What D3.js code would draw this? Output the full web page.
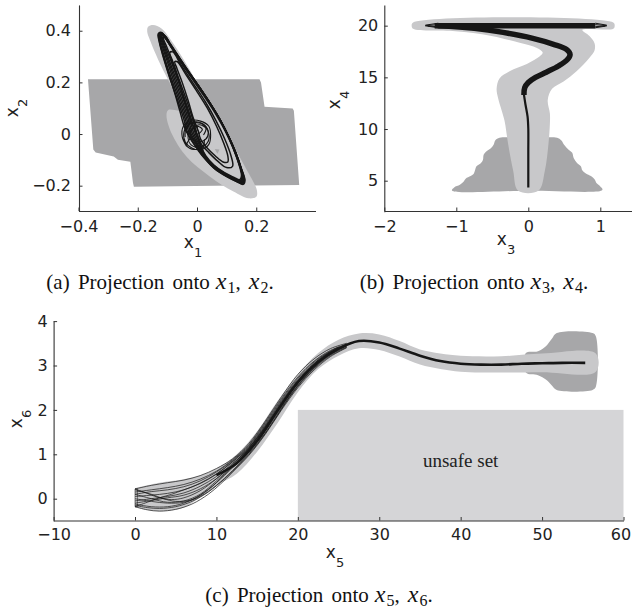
<!DOCTYPE html>
<html><head><meta charset="utf-8">
<script src="https://cdn.jsdelivr.net/npm/d3@7/dist/d3.min.js"></script>
<style>body{margin:0;background:#fff}svg{display:block}</style>
</head><body>
<svg id="chart" width="632" height="612"></svg>
<script>
// ---------------- DATA ----------------
// Panel (a): projection onto x1, x2
const aXTicks = [-0.4, -0.2, 0, 0.2];
const aXLabels = ["\u22120.4", "\u22120.2", "0", "0.2"];
const aYTicks = [-0.2, 0, 0.2, 0.4];
const aYLabels = ["\u22120.2", "0", "0.2", "0.4"];
const aDark = [[-0.368,0.212],[0.211,0.212],[0.216,0.2],[0.228,0.106],[0.323,0.099],[0.327,0.09],[0.345,-0.197],[-0.213,-0.204],[-0.216,-0.19],[-0.225,-0.107],[-0.267,-0.1],[-0.281,-0.087],[-0.342,-0.072],[-0.35,-0.06]];
const aLight = [[-0.165,0.415],[-0.148,0.422],[-0.12,0.409],[-0.08,0.351],[-0.024,0.248],[0.044,0.106],[0.112,-0.023],[0.168,-0.139],[0.202,-0.217],[0.2,-0.243],[0.174,-0.249],[0.123,-0.223],[0.044,-0.165],[-0.035,-0.088],[-0.086,0.003],[-0.103,0.073],[-0.097,0.093],[-0.052,0.093],[-0.08,0.17],[-0.125,0.273],[-0.159,0.364],[-0.168,0.396]];
const aDarkSpeck = [[0.06,-0.058],[0.076,-0.06],[0.069,-0.076]];
const aLoops = [
 [[-0.005,-0.045],[-0.03,0.0],[-0.045,0.06],[-0.065,0.13],[-0.09,0.21],[-0.112,0.29],[-0.127,0.355],[-0.131,0.388],[-0.12,0.393],[-0.1,0.36],[-0.075,0.315],[-0.04,0.255],[0.002,0.19],[0.04,0.125],[0.075,0.06],[0.105,-0.005],[0.13,-0.07],[0.15,-0.135],[0.162,-0.18],[0.156,-0.195],[0.135,-0.185],[0.1,-0.165],[0.06,-0.135],[0.03,-0.1],[0.005,-0.065],[-0.005,-0.045]],
 [[-0.002,-0.042],[-0.025,0.0],[-0.04,0.06],[-0.06,0.13],[-0.085,0.21],[-0.108,0.29],[-0.124,0.352],[-0.129,0.386],[-0.118,0.391],[-0.099,0.358],[-0.074,0.314],[-0.039,0.254],[0.003,0.189],[0.041,0.124],[0.076,0.059],[0.105,-0.006],[0.13,-0.071],[0.15,-0.134],[0.16,-0.178],[0.154,-0.193],[0.133,-0.183],[0.099,-0.163],[0.059,-0.133],[0.029,-0.098],[0.006,-0.062],[-0.002,-0.042]],
 [[0.0,-0.04],[-0.02,0.0],[-0.035,0.06],[-0.055,0.13],[-0.08,0.21],[-0.103,0.29],[-0.12,0.35],[-0.126,0.383],[-0.116,0.388],[-0.097,0.357],[-0.072,0.313],[-0.037,0.253],[0.004,0.188],[0.042,0.123],[0.077,0.058],[0.106,-0.007],[0.131,-0.072],[0.149,-0.133],[0.158,-0.175],[0.152,-0.19],[0.132,-0.18],[0.098,-0.16],[0.058,-0.13],[0.028,-0.095],[0.008,-0.06],[0.0,-0.04]],
 [[0.002,-0.038],[-0.015,0.0],[-0.03,0.06],[-0.05,0.13],[-0.075,0.21],[-0.099,0.29],[-0.116,0.347],[-0.123,0.38],[-0.113,0.385],[-0.095,0.355],[-0.07,0.311],[-0.035,0.251],[0.005,0.186],[0.043,0.121],[0.077,0.056],[0.106,-0.009],[0.131,-0.074],[0.148,-0.131],[0.156,-0.172],[0.15,-0.187],[0.13,-0.177],[0.096,-0.157],[0.057,-0.127],[0.028,-0.092],[0.01,-0.057],[0.002,-0.038]],
 [[0.005,-0.035],[-0.01,0.0],[-0.025,0.06],[-0.045,0.13],[-0.07,0.21],[-0.095,0.29],[-0.112,0.345],[-0.12,0.378],[-0.111,0.383],[-0.094,0.353],[-0.069,0.31],[-0.034,0.25],[0.006,0.185],[0.044,0.12],[0.078,0.055],[0.107,-0.01],[0.131,-0.075],[0.147,-0.13],[0.154,-0.17],[0.148,-0.184],[0.128,-0.174],[0.095,-0.155],[0.057,-0.125],[0.028,-0.09],[0.012,-0.055],[0.005,-0.035]],
 [[0.008,-0.032],[-0.005,0.0],[-0.02,0.06],[-0.04,0.13],[-0.065,0.21],[-0.09,0.29],[-0.108,0.342],[-0.116,0.375],[-0.108,0.38],[-0.092,0.351],[-0.067,0.308],[-0.032,0.248],[0.007,0.183],[0.045,0.118],[0.079,0.053],[0.107,-0.011],[0.13,-0.076],[0.146,-0.128],[0.152,-0.166],[0.146,-0.18],[0.126,-0.171],[0.094,-0.152],[0.057,-0.122],[0.029,-0.087],[0.014,-0.052],[0.008,-0.032]],
 [[0.01,-0.03],[0.0,0.0],[-0.015,0.06],[-0.035,0.13],[-0.06,0.21],[-0.085,0.29],[-0.103,0.34],[-0.113,0.372],[-0.106,0.377],[-0.09,0.35],[-0.066,0.307],[-0.031,0.247],[0.008,0.182],[0.045,0.117],[0.079,0.052],[0.107,-0.012],[0.13,-0.077],[0.144,-0.127],[0.15,-0.163],[0.144,-0.177],[0.125,-0.168],[0.093,-0.15],[0.057,-0.12],[0.03,-0.085],[0.015,-0.05],[0.01,-0.03]],
 [[-0.01,-0.04],[-0.04,0.02],[-0.058,0.09],[-0.078,0.17],[-0.1,0.25],[-0.118,0.32],[-0.128,0.37],[-0.124,0.386],[-0.108,0.372],[-0.086,0.335],[-0.055,0.28],[-0.015,0.212],[0.025,0.145],[0.062,0.08],[0.095,0.012],[0.122,-0.055],[0.143,-0.12],[0.156,-0.17],[0.15,-0.186],[0.13,-0.177],[0.097,-0.158],[0.06,-0.128],[0.03,-0.093],[0.005,-0.06],[-0.01,-0.04]],
 [[0.0,0.0],[-0.02,0.05],[-0.04,0.12],[-0.06,0.2],[-0.08,0.27],[-0.092,0.315],[-0.082,0.318],[-0.055,0.27],[-0.015,0.2],[0.028,0.125],[0.064,0.052],[0.094,-0.02],[0.115,-0.085],[0.12,-0.125],[0.1,-0.13],[0.07,-0.105],[0.04,-0.072],[0.015,-0.04],[0.0,0.0]],
 [[0.005,0.01],[-0.012,0.06],[-0.03,0.13],[-0.05,0.2],[-0.068,0.255],[-0.075,0.28],[-0.066,0.28],[-0.04,0.235],[-0.003,0.17],[0.035,0.1],[0.066,0.03],[0.09,-0.035],[0.104,-0.085],[0.104,-0.108],[0.088,-0.108],[0.062,-0.085],[0.035,-0.055],[0.012,-0.02],[0.005,0.01]]
];
const aKnots = [
 [[0.005,0.0],[0.018,0.018],[0.0,0.03],[-0.02,0.012],[-0.018,-0.015],[0.004,-0.03],[0.028,-0.022],[0.038,0.004],[0.026,0.034],[-0.004,0.044],[-0.03,0.035],[-0.044,0.008],[-0.04,-0.03],[-0.016,-0.055],[0.014,-0.06],[0.04,-0.04],[0.046,-0.006],[0.04,0.03],[0.012,0.05],[-0.022,0.052],[-0.046,0.03],[-0.05,-0.01],[-0.035,-0.048]],
 [[0.022,-0.004],[0.03,0.022],[0.008,0.036],[-0.014,0.024],[-0.03,-0.006],[-0.02,-0.042],[0.012,-0.052],[0.036,-0.032],[0.04,0.002],[0.018,0.04],[-0.012,0.046],[-0.036,0.026],[-0.04,-0.012]],
 [[-0.03,0.0],[-0.04,0.03],[-0.02,0.045],[0.0,0.03],[-0.005,0.0],[-0.025,-0.02],[-0.035,-0.045],[-0.01,-0.06],[0.02,-0.05],[0.025,-0.02]]
];

// Panel (b): projection onto x3, x4
const bXTicks = [-2, -1, 0, 1];
const bXLabels = ["\u22122", "\u22121", "0", "1"];
const bYTicks = [5, 10, 15, 20];
const bYLabels = ["5", "10", "15", "20"];
const bDark = [[-1.06,4.05],[-1.03,4.35],[-0.95,4.6],[-0.9,4.9],[-0.87,5.2],[-0.8,5.45],[-0.76,5.65],[-0.74,6.0],[-0.72,6.4],[-0.66,6.7],[-0.63,7.0],[-0.62,7.5],[-0.58,7.85],[-0.52,8.15],[-0.48,8.5],[-0.46,8.9],[-0.4,9.15],[-0.3,9.2],[0.3,9.2],[0.4,9.15],[0.46,8.9],[0.5,8.45],[0.56,8.0],[0.61,7.7],[0.63,7.2],[0.68,6.7],[0.73,6.4],[0.75,6.0],[0.8,5.7],[0.87,5.45],[0.92,5.15],[0.95,4.75],[1.0,4.45],[1.03,4.2],[1.02,4.05],[0,4.03]];
const bLight = [[-0.14,4.03],[-0.21,5.97],[-0.28,8.55],[-0.33,10.8],[-0.37,11.8],[-0.42,13.0],[-0.44,13.9],[-0.4,14.9],[-0.26,15.6],[-0.02,16.3],[0.16,17.05],[0.2,17.4],[0.12,17.85],[-0.12,18.35],[-0.62,19.15],[-1.09,19.5],[-1.6,19.7],[-1.62,20.0],[-1.6,20.3],[1.18,20.3],[1.2,20.0],[1.18,19.7],[0.75,19.6],[0.85,19.0],[0.92,18.3],[0.92,17.6],[0.85,16.9],[0.67,15.6],[0.49,14.6],[0.33,13.9],[0.27,12.8],[0.3,11.5],[0.3,10.5],[0.28,8.55],[0.23,5.97],[0.14,4.03]];
const bLower = [[0.0,4.35],[0.0,6],[0.0,8],[0.0,10],[-0.01,11.2],[-0.04,12.4],[-0.06,13.3]];
const bUpper = [[-0.06,13.3],[-0.05,14.0],[0.0,14.5],[0.1,15.0],[0.25,15.5],[0.42,16.1],[0.54,16.7],[0.58,17.2],[0.53,17.7],[0.35,18.2],[0.05,18.8],[-0.35,19.35],[-0.75,19.75],[-1.1,19.95],[-1.3,20.0]];
const bBar = [[[-1.25,20.0],[0.93,20.0]]];
const bBarThin = [
 [[-1.43,20.05],[-1.25,20.24]],[[-1.43,20.0],[-1.25,20.1]],[[-1.43,19.98],[-1.25,19.9]],[[-1.4,19.95],[-1.25,19.8]],
 [[0.93,20.24],[1.09,20.05]],[[0.93,20.1],[1.09,20.0]],[[0.93,19.9],[1.09,19.98]],[[0.93,19.8],[1.07,19.95]]
];

// Panel (c): projection onto x5, x6
const cXTicks = [-10, 0, 10, 20, 30, 40, 50, 60];
const cXLabels = ["\u221210", "0", "10", "20", "30", "40", "50", "60"];
const cYTicks = [0, 1, 2, 3, 4];
const cYLabels = ["0", "1", "2", "3", "4"];
const cUnsafe = {x0: 20, x1: 60, y0: -0.5, y1: 2, label: "unsafe set", lx: 40, ly: 0.72};
const cTubeUpper = [[0,0.24],[3,0.36],[6,0.44],[8,0.52],[10,0.68],[12.5,1.0],[15,1.52],[17.5,2.2],[20,2.8],[22.5,3.28],[25,3.58],[27.5,3.72],[30,3.7],[32.5,3.55],[35,3.36],[37.5,3.27],[40,3.22],[45,3.21],[50,3.27],[56.6,3.27]];
const cTubeLower = [[56.6,2.86],[50,2.85],[45,2.84],[40,2.86],[37.5,2.92],[35,3.02],[32.5,3.2],[30,3.35],[27.5,3.39],[25,3.22],[22.5,2.92],[20,2.4],[17.5,1.7],[15,1.06],[12.5,0.56],[10,0.3],[8,0.04],[6,-0.2],[3,-0.28],[0,-0.2]];
const cDark = [[48,2.84],[49.5,2.78],[50.5,2.68],[51.2,2.55],[51.8,2.45],[56.2,2.45],[56.6,2.52],[56.6,3.66],[56.2,3.73],[51.8,3.73],[51.2,3.6],[50.5,3.44],[49.5,3.32],[48,3.28]];
const cInitBox = [[0,-0.18],[0.3,-0.18],[0.3,0.22],[0,0.22]];
const cMain = [[10,0.53],[12.5,0.8],[15,1.3],[17.5,1.98],[20,2.62],[22.5,3.08],[25,3.38],[27.5,3.55],[30,3.52],[32.5,3.38],[35,3.22],[37.5,3.1],[40,3.04],[42.5,3.02],[45,3.02],[47.5,3.04],[50,3.05],[52.5,3.06],[55.3,3.06]];
const cFan = [
 [[0,0.22],[2,0.3],[4,0.36],[6,0.42],[8,0.52],[10,0.68],[12,0.9],[14,1.25],[16,1.75],[18,2.3],[20,2.8],[22,3.15],[24,3.38],[26,3.5]],
 [[0,0.22],[1.5,0.12],[3,0.02],[4.5,-0.02],[6,0.02],[8,0.18],[10,0.45],[12,0.78],[14,1.15],[16,1.62],[18,2.15],[20,2.62],[22,3.0],[24,3.28],[26,3.45]],
 [[0,0.15],[2,0.2],[4,0.25],[6,0.32],[8,0.44],[10,0.62],[12,0.88],[14,1.22],[16,1.72],[18,2.26],[20,2.74],[22,3.1],[24,3.34],[26,3.48]],
 [[0,0.1],[2,0.16],[4,0.2],[6,0.27],[8,0.4],[10,0.6],[12,0.86],[14,1.2],[16,1.69],[18,2.23],[20,2.71],[22,3.08],[24,3.32],[26,3.47]],
 [[0,0.05],[2,0.08],[4,0.12],[6,0.2],[8,0.35],[10,0.56],[12,0.84],[14,1.18],[16,1.66],[18,2.2],[20,2.68],[22,3.05],[24,3.3],[26,3.46]],
 [[0,-0.05],[2,0.0],[4,0.05],[6,0.13],[8,0.28],[10,0.5],[12,0.8],[14,1.12],[16,1.58],[18,2.12],[20,2.6],[22,2.98],[24,3.26],[26,3.44]],
 [[0,-0.18],[1.5,-0.08],[3,0.02],[4.5,0.1],[6,0.2],[8,0.34],[10,0.55],[12,0.83],[14,1.16],[16,1.64],[18,2.18],[20,2.66],[22,3.03],[24,3.3],[26,3.46]],
 [[0,-0.18],[1.5,-0.25],[3,-0.28],[5,-0.24],[7,-0.12],[9,0.1],[10.5,0.33],[12,0.6],[14,0.98],[16,1.45],[18,2.0],[20,2.5],[22,2.9],[24,3.2],[26,3.4]],
 [[0,-0.15],[1.5,-0.2],[3,-0.22],[5,-0.18],[7,-0.06],[9,0.15],[11,0.45],[13,0.8],[15,1.22],[17,1.74],[19,2.3],[21,2.76],[23,3.12],[25,3.36]],
 [[0,-0.12],[2,-0.18],[4,-0.18],[6,-0.1],[8,0.08],[10,0.36],[12,0.7],[14,1.06],[16,1.52],[18,2.06],[20,2.56],[22,2.95],[24,3.24],[26,3.42]],
 [[0,0.1],[2,0.0],[4,-0.08],[6,-0.05],[8,0.1],[10,0.4],[12,0.74],[14,1.1],[16,1.56],[18,2.1],[20,2.6],[22,2.98],[24,3.27],[26,3.44]],
 [[0,0.2],[2,0.1],[3.5,0.0],[5,-0.06],[7,-0.02],[9,0.2],[11,0.55],[13,0.92],[15,1.36],[17,1.88],[19,2.42],[21,2.86],[23,3.2],[25,3.42]],
 [[0,0.0],[2,-0.06],[4,-0.1],[6,-0.08],[8,0.05],[10,0.3],[12,0.64],[14,1.02],[16,1.48],[18,2.03],[20,2.53],[22,2.93],[24,3.22],[26,3.41]],
 [[0,-0.1],[2,-0.04],[4,0.02],[6,0.08],[8,0.22],[10,0.45],[12,0.76],[14,1.14],[16,1.6],[18,2.14],[20,2.64],[22,3.01],[24,3.28],[26,3.45]]
];

// captions
const captions = [
  {pre: "(a) Projection onto", v1: "x", s1: "1", v2: "x", s2: "2"},
  {pre: "(b) Projection onto", v1: "x", s1: "3", v2: "x", s2: "4"},
  {pre: "(c) Projection onto", v1: "x", s1: "5", v2: "x", s2: "6"}
];

// ---------------- DRAWING ----------------
const svg = d3.select("#chart");
const DARK = "#a7a7a9", LIGHT = "#c8c8ca", UNSAFE = "#d5d5d7", TRAJ = "#161616", AXIS = "#333";
const tickFont = "DejaVu Sans, sans-serif";

function panel(xs, ys) {
  const g = svg.append("g");
  return {g, xs, ys,
    line: (curve) => d3.line().x(d => xs(d[0])).y(d => ys(d[1])).curve(curve || d3.curveLinear)};
}

function axes(p, o) {
  const gx = p.g.append("g").attr("transform", `translate(0,${o.xAt})`)
    .call(d3.axisBottom(p.xs).tickValues(o.xt).tickFormat((d, i) => o.xl[i])
      .tickSizeInner(-3.5).tickSizeOuter(0).tickPadding(o.xpad));
  const gy = p.g.append("g").attr("transform", `translate(${o.yAt},0)`)
    .call(d3.axisLeft(p.ys).tickValues(o.yt).tickFormat((d, i) => o.yl[i])
      .tickSizeInner(-3.5).tickSizeOuter(0).tickPadding(o.ypad));
  [gx, gy].forEach(a => {
    a.select(".domain").attr("stroke", AXIS).attr("stroke-width", 1.1);
    a.selectAll(".tick line").attr("stroke", AXIS);
    a.selectAll("text").attr("font-family", tickFont).attr("font-size", 16).attr("fill", "#222");
  });
  return gx;
}

function axisLabel(x, y, v, s, rotate) {
  const t = svg.append("text").attr("font-family", tickFont).attr("font-size", 17).attr("fill", "#222")
    .attr("text-anchor", "middle")
    .attr("transform", `translate(${x},${y})` + (rotate ? " rotate(-90)" : ""));
  t.append("tspan").text(v);
  t.append("tspan").attr("font-size", 13).attr("dy", 9).text(s);
}

// ----- Panel (a)
{
  const xs = d3.scaleLinear([-0.4, 0.4], [78.5, 315.5]);
  const ys = d3.scaleLinear([-0.3, 0.5], [211.5, 4.9]);
  const p = panel(xs, ys);
  p.g.append("path").attr("d", p.line(d3.curveLinearClosed)(aDark)).attr("fill", DARK);
  p.g.append("path").attr("d", p.line(d3.curveCatmullRomClosed.alpha(0.5))(aLight)).attr("fill", LIGHT);
  p.g.append("path").attr("d", p.line(d3.curveLinearClosed)(aDarkSpeck)).attr("fill", DARK);
  const lc = p.line(d3.curveCatmullRom.alpha(0.5));
  aLoops.forEach(l => p.g.append("path").attr("d", lc(l)).attr("fill", "none")
    .attr("stroke", TRAJ).attr("stroke-width", 1.5).attr("stroke-linejoin", "round"));
  aKnots.forEach(s => p.g.append("path").attr("d", lc(s)).attr("fill", "none")
    .attr("stroke", TRAJ).attr("stroke-width", 1.1));
  axes(p, {xAt: 211, yAt: 79, xt: aXTicks, xl: aXLabels, yt: aYTicks, yl: aYLabels, xpad: 10, ypad: 8});
  axisLabel(193, 248, "x", "1", false);
  axisLabel(18, 108, "x", "2", true);
}

// ----- Panel (b)
{
  const xs = d3.scaleLinear([-2, 1.5], [384.3, 636.3]);
  const ys = d3.scaleLinear([2, 22], [211.7, 5.0]);
  const p = panel(xs, ys);
  p.g.append("path").attr("d", p.line(d3.curveCatmullRomClosed.alpha(0.5))(bDark)).attr("fill", DARK);
  p.g.append("path").attr("d", p.line(d3.curveCatmullRomClosed.alpha(0.5))(bLight)).attr("fill", LIGHT);
  const lc = p.line(d3.curveCatmullRom.alpha(0.5));
  p.g.append("path").attr("d", lc(bLower)).attr("fill", "none").attr("stroke", TRAJ).attr("stroke-width", 2.2);
  p.g.append("path").attr("d", lc(bUpper)).attr("fill", "none").attr("stroke", TRAJ).attr("stroke-width", 5.5);
  bBar.forEach(b => p.g.append("path").attr("d", p.line()(b)).attr("stroke", TRAJ).attr("stroke-width", 5.5));
  bBarThin.forEach(b => p.g.append("path").attr("d", p.line()(b)).attr("stroke", TRAJ).attr("stroke-width", 1));
  axes(p, {xAt: 211, yAt: 384.3, xt: bXTicks, xl: bXLabels, yt: bYTicks, yl: bYLabels, xpad: 10, ypad: 6});
  axisLabel(506, 245, "x", "3", false);
  axisLabel(340, 100, "x", "4", true);
}

// ----- Panel (c)
{
  const xs = d3.scaleLinear([-10, 60], [53.6, 623.5]);
  const ys = d3.scaleLinear([-0.5, 4], [520.9, 321.1]);
  const p = panel(xs, ys);
  p.g.append("rect").attr("x", xs(cUnsafe.x0)).attr("y", ys(cUnsafe.y1))
    .attr("width", xs(cUnsafe.x1) - xs(cUnsafe.x0)).attr("height", ys(cUnsafe.y0) - ys(cUnsafe.y1))
    .attr("fill", UNSAFE);
  p.g.append("text").attr("x", xs(cUnsafe.lx)).attr("y", ys(cUnsafe.ly)).attr("text-anchor", "middle")
    .attr("font-family", "Liberation Serif, serif").attr("font-size", 19).attr("fill", "#222").text(cUnsafe.label);
  p.g.append("path").attr("d", p.line(d3.curveCatmullRomClosed.alpha(0.5))(cDark)).attr("fill", DARK);
  p.g.append("path").attr("d", p.line(d3.curveCatmullRom.alpha(0.5))(cTubeUpper.concat(cTubeLower)) + "Z").attr("fill", LIGHT);
  p.g.append("path").attr("d", p.line(d3.curveLinearClosed)(cInitBox)).attr("fill", "none").attr("stroke", "#555").attr("stroke-width", 0.7);
  const lc = p.line(d3.curveCatmullRom.alpha(0.5));
  cFan.forEach(f => p.g.append("path").attr("d", lc(f)).attr("fill", "none").attr("stroke", TRAJ).attr("stroke-width", 0.7));
  p.g.append("path").attr("d", lc(cMain)).attr("fill", "none").attr("stroke", TRAJ).attr("stroke-width", 2.6);
  const gx = axes(p, {xAt: 520.5, yAt: 53.6, xt: cXTicks, xl: cXLabels, yt: cYTicks, yl: cYLabels, xpad: 8, ypad: 6});
  gx.selectAll(".tick text").filter(d => d === cXTicks[cXTicks.length - 1]).attr("dx", -3);
  axisLabel(335, 558, "x", "5", false);
  axisLabel(22, 419, "x", "6", true);
}

// ----- Captions
const capPos = [[160, 289], [474, 289], [319, 602]];
captions.forEach((c, i) => {
  const t = svg.append("text").attr("x", capPos[i][0]).attr("y", capPos[i][1]).attr("text-anchor", "middle")
    .attr("font-family", "Liberation Serif, serif").attr("font-size", 21).attr("fill", "#111");
  t.append("tspan").attr("word-spacing", 3).text(c.pre);
  t.append("tspan").attr("font-style", "italic").attr("font-size", 24).attr("dx", 6).text(c.v1);
  t.append("tspan").attr("font-size", 16).attr("dy", 4).attr("dx", 1).text(c.s1);
  t.append("tspan").attr("dy", -4).text(",");
  t.append("tspan").attr("font-style", "italic").attr("font-size", 24).attr("dx", 8).text(c.v2);
  t.append("tspan").attr("font-size", 16).attr("dy", 4).attr("dx", 1).text(c.s2);
  t.append("tspan").attr("dy", -4).text(".");
});
</script>
</body></html>
